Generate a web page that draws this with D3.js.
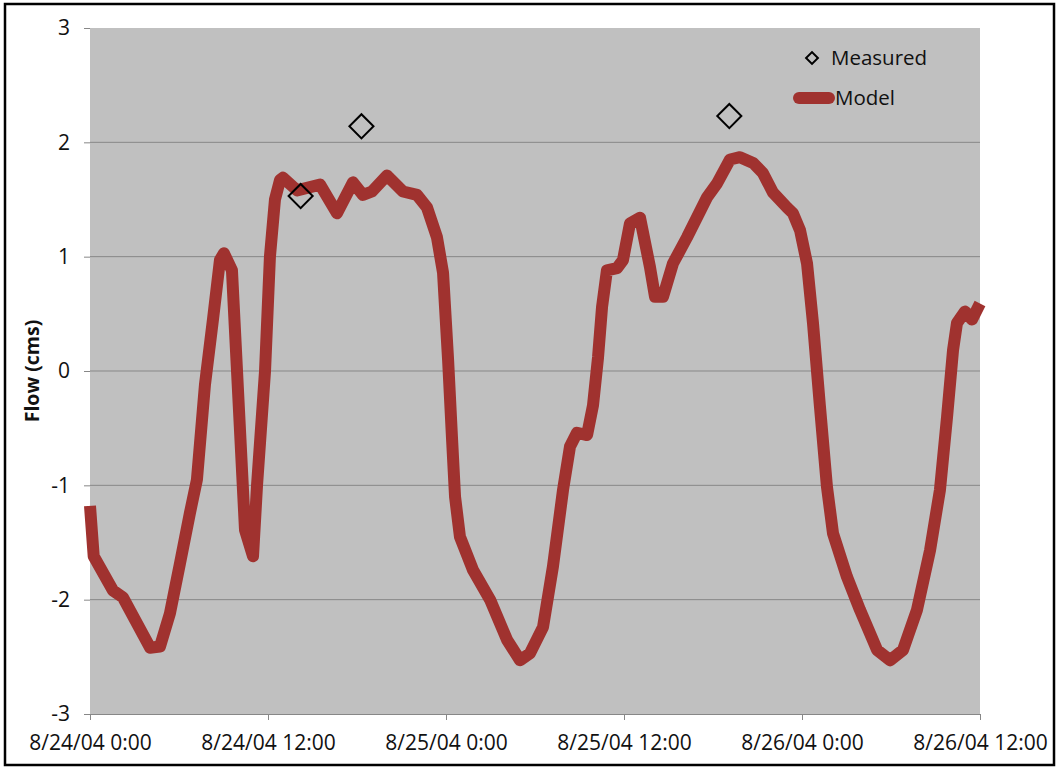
<!DOCTYPE html>
<html>
<head>
<meta charset="utf-8">
<script src="https://cdn.jsdelivr.net/npm/d3@7"></script>
<style>
  html, body { margin: 0; padding: 0; background: #ffffff; }
  svg { display: block; }
  text { font-family: "Open Sans", "Liberation Sans", sans-serif; fill: #111; }
</style>
</head>
<body>
<svg id="chart" width="1058" height="769"></svg>
<script>
// ---- data ----
const startTime = "2004-08-24T00:00:00";
const endTime = "2004-08-26T12:00:00";
const xTickLabels = ["8/24/04 0:00", "8/24/04 12:00", "8/25/04 0:00", "8/25/04 12:00", "8/26/04 0:00", "8/26/04 12:00"];
const yTicks = [-3, -2, -1, 0, 1, 2, 3];
const yLabel = "Flow (cms)";
const seriesNames = ["Measured", "Model"];

// Model: hours after 8/24/04 0:00 and flow (cms)
const modelHours = [0, 0.25, 1.55, 2.22, 4.05, 4.72, 5.39, 6.07, 6.74, 7.21, 7.75, 8.29, 8.76, 9.03, 9.57,
  10.45, 10.99, 11.26, 11.80, 12.13, 12.47, 12.81, 13.01, 13.96, 15.51, 16.65, 17.73, 18.40, 19.01,
  20.02, 21.10, 22.05, 22.72, 23.39, 23.80, 24.14, 24.41, 24.61, 24.94, 25.82, 26.97, 28.11, 28.99,
  29.66, 30.54, 31.21, 31.89, 32.36, 32.83, 33.51, 33.91, 34.25, 34.52, 34.85, 35.53, 35.93, 36.40,
  37.08, 37.75, 38.09, 38.63, 39.30, 40.25, 41.60, 42.27, 43.15, 43.82, 44.70, 45.37, 46.05, 46.99,
  47.39, 47.87, 48.34, 48.74, 49.21, 49.68, 50.09, 51.03, 51.91, 53.06, 53.94, 54.81, 55.75, 56.63,
  57.30, 57.78, 58.18, 58.45, 58.99, 59.46, 60.0];
const modelFlow = [-1.18, -1.62, -1.92, -1.98, -2.42, -2.41, -2.12, -1.68, -1.24, -0.95, -0.12, 0.45, 0.97, 1.03, 0.88,
  -1.39, -1.62, -1.0, 0.0, 1.0, 1.5, 1.67, 1.69, 1.58, 1.63, 1.38, 1.65, 1.54, 1.57,
  1.71, 1.57, 1.54, 1.43, 1.17, 0.86, 0.1, -0.6, -1.1, -1.45, -1.74, -2.0, -2.35, -2.53,
  -2.47, -2.24, -1.71, -1.04, -0.66, -0.54, -0.56, -0.3, 0.12, 0.56, 0.88, 0.9, 0.97, 1.29,
  1.34, 0.91, 0.65, 0.65, 0.94, 1.17, 1.52, 1.64, 1.85, 1.87, 1.82, 1.73, 1.56, 1.43,
  1.38, 1.23, 0.94, 0.42, -0.31, -1.01, -1.42, -1.8, -2.09, -2.44, -2.53, -2.44, -2.09, -1.57,
  -1.04, -0.4, 0.18, 0.42, 0.52, 0.45, 0.59];

// Measured: hours after 8/24/04 0:00 and flow (cms)
const measuredHours = [14.2, 18.3, 43.1];
const measuredFlow = [1.53, 2.14, 2.23];

// ---- layout ----
const plot = { left: 90, top: 28, right: 980, bottom: 714 };
const lineColor = "#a0322f";
const bgColor = "#c0c0c0";
const gridColor = "#878787";
const tickFont = 21;

const t0 = new Date(startTime);
const toDate = h => new Date(t0.getTime() + h * 3600 * 1000);

const x = d3.scaleTime().domain([t0, new Date(endTime)]).range([plot.left, plot.right]);
const y = d3.scaleLinear().domain([-3, 3]).range([plot.bottom, plot.top]);

const svg = d3.select("#chart");

// outer frame
svg.append("rect").attr("x", 5).attr("y", 4).attr("width", 1049).attr("height", 761)
  .attr("fill", "#fff").attr("stroke", "#000").attr("stroke-width", 2.5);

// plot background
svg.append("rect").attr("x", plot.left).attr("y", plot.top)
  .attr("width", plot.right - plot.left).attr("height", plot.bottom - plot.top)
  .attr("fill", bgColor);

// gridlines
svg.append("g").selectAll("line").data(yTicks.filter(v => v > -3 && v < 3)).join("line")
  .attr("x1", plot.left).attr("x2", plot.right)
  .attr("y1", d => y(d)).attr("y2", d => y(d))
  .attr("stroke", gridColor).attr("stroke-width", 1);

// y axis
const yAxis = d3.axisLeft(y).tickValues(yTicks).tickFormat(d => String(d)).tickSize(6).tickPadding(14);
const gy = svg.append("g").attr("transform", `translate(${plot.left},0)`).call(yAxis);
gy.select(".domain").remove();
gy.selectAll(".tick line").attr("stroke", gridColor);
gy.selectAll(".tick text").attr("font-size", tickFont).attr("font-family", "Open Sans, sans-serif").attr("fill", "#111");

// x axis
const xTickDates = xTickLabels.map((_, i) => toDate(i * 12));
const xAxis = d3.axisBottom(x).tickValues(xTickDates).tickFormat((d, i) => xTickLabels[i]).tickSize(6).tickPadding(15);
const gx = svg.append("g").attr("transform", `translate(0,${plot.bottom})`).call(xAxis);
gx.select(".domain").attr("stroke", gridColor).attr("d", `M${plot.left},0.5H${plot.right}`);
gx.selectAll(".tick line").attr("stroke", gridColor);
gx.selectAll(".tick text").attr("font-size", tickFont).attr("font-family", "Open Sans, sans-serif").attr("fill", "#111");

// y label
svg.append("text")
  .attr("transform", `translate(39,${y(0)}) rotate(-90)`)
  .attr("text-anchor", "middle")
  .attr("font-size", 19.5).attr("font-weight", "bold")
  .text(yLabel);

// model line
const modelData = modelHours.map((h, i) => ({ t: toDate(h), v: modelFlow[i] }));
const line = d3.line().x(d => x(d.t)).y(d => y(d.v)).curve(d3.curveLinear);
svg.append("path").datum(modelData)
  .attr("d", line)
  .attr("fill", "none").attr("stroke", lineColor)
  .attr("stroke-width", 12).attr("stroke-linejoin", "round").attr("stroke-linecap", "butt");

// measured markers
const measuredData = measuredHours.map((h, i) => ({ t: toDate(h), v: measuredFlow[i] }));
const diamond = d3.symbol().type(d3.symbolSquare).size(290);
svg.append("g").selectAll("path").data(measuredData).join("path")
  .attr("d", diamond)
  .attr("transform", d => `translate(${x(d.t)},${y(d.v)}) rotate(45)`)
  .attr("fill", "none").attr("stroke", "#000").attr("stroke-width", 2);

// legend
const lg = svg.append("g");
lg.append("path").attr("d", d3.symbol().type(d3.symbolSquare).size(70))
  .attr("transform", "translate(812,58) rotate(45)")
  .attr("fill", "none").attr("stroke", "#000").attr("stroke-width", 2);
lg.append("text").attr("x", 831).attr("y", 58).attr("dy", "0.35em")
  .attr("font-size", 20.5).text(seriesNames[0]);
lg.append("line").attr("x1", 799).attr("x2", 829).attr("y1", 98).attr("y2", 98)
  .attr("stroke", lineColor).attr("stroke-width", 12).attr("stroke-linecap", "round");
lg.append("text").attr("x", 835).attr("y", 98).attr("dy", "0.35em")
  .attr("font-size", 20.5).text(seriesNames[1]);
</script>
</body>
</html>
